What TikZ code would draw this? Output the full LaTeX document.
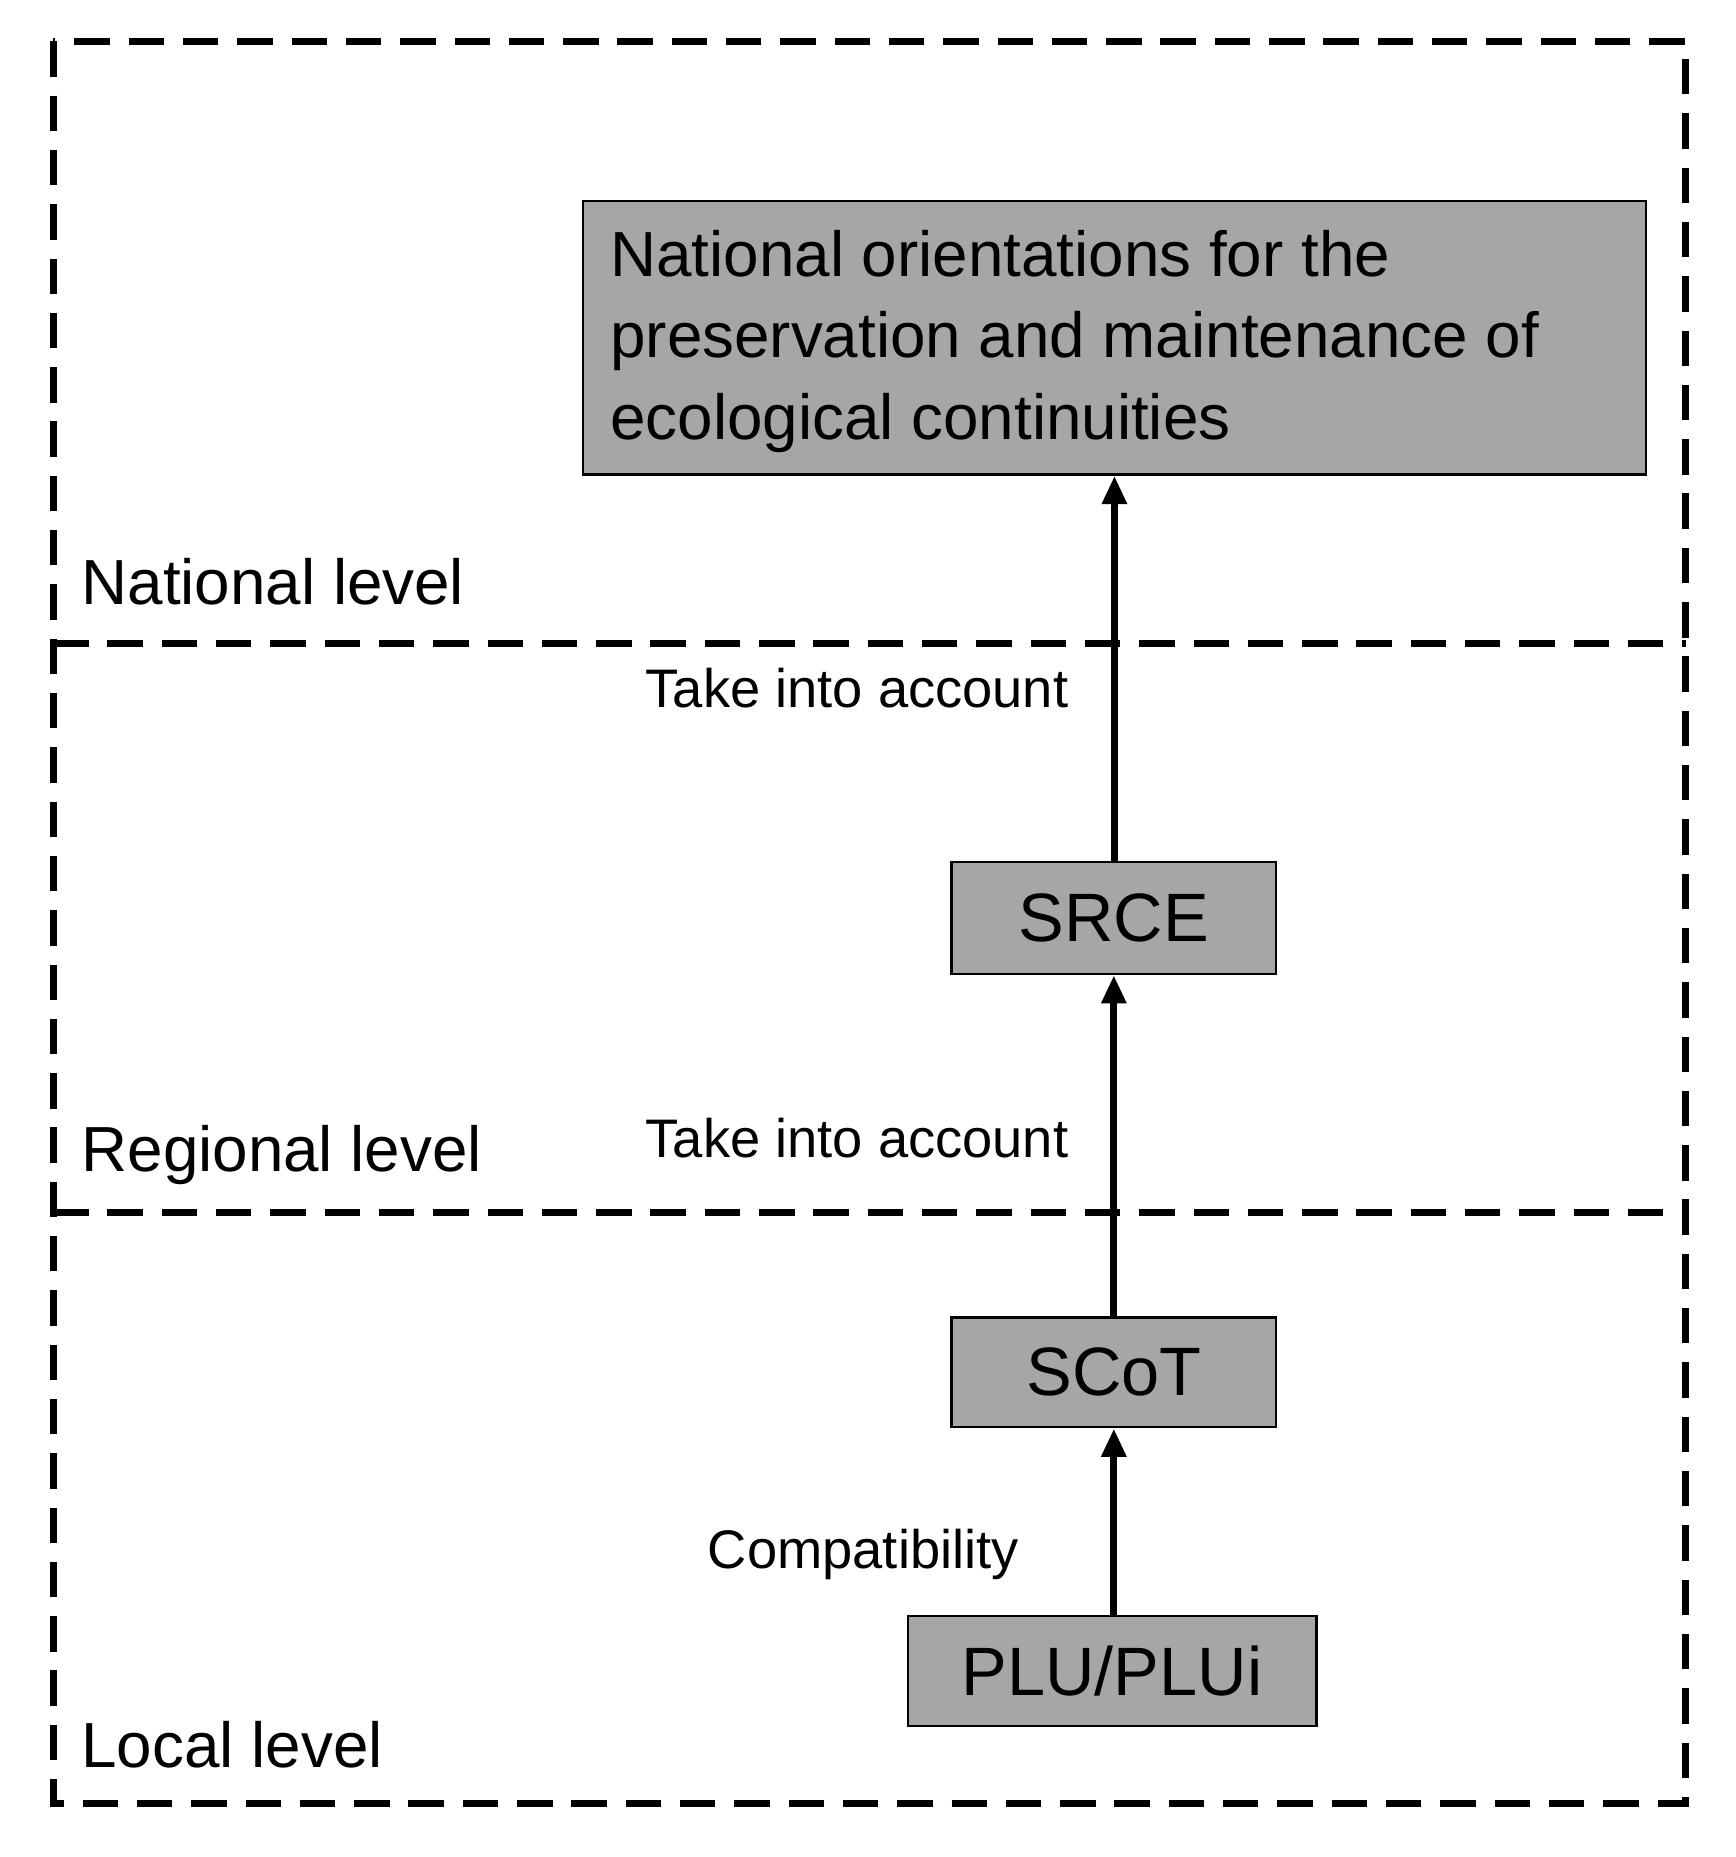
\documentclass[tikz,border=0pt]{standalone}
\usepackage{fontspec}
\setmainfont{Liberation Sans}
\usetikzlibrary{arrows.meta}
\begin{document}
\begin{tikzpicture}[x=0.5pt,y=-0.5pt,
  dashline/.style={line width=3pt,dash pattern=on 15pt off 8pt},
  gbox/.style={draw=black,line width=1pt,fill={rgb,255:red,166;green,166;blue,166},inner sep=0pt},
  arr/.style={line width=3pt,-{Triangle[length=12pt,width=10pt]}},
  lvl/.style={anchor=west,font=\fontsize{27}{32}\selectfont},
  lab/.style={anchor=east,font=\fontsize{23}{28}\selectfont}]
\useasboundingbox (0,0) rectangle (1470,1573);
\fill[white] (0,0) rectangle (1470,1573);
\draw[dashline] (45,35) rectangle (1428,1528);
\draw[dashline] (45,545) -- (1428,545);
\draw[dashline] (45,1027) -- (1428,1027);
\node[gbox,minimum width=450pt,minimum height=116pt] (nat) at (944,286) {};
\node[anchor=north west,align=left,font=\fontsize{27}{34.5}\selectfont] (natt) at (510,188) {National orientations for the\\preservation and maintenance of\\ecological continuities};
\node[gbox,minimum width=137.5pt,minimum height=47.5pt,font=\fontsize{29}{34}\selectfont] (srce) at (943.5,777.5) {SRCE};
\node[gbox,minimum width=137.5pt,minimum height=46.5pt,font=\fontsize{29}{34}\selectfont] (scot) at (943.5,1162.5) {SCoT};
\node[gbox,minimum width=173pt,minimum height=46.5pt,font=\fontsize{29}{34}\selectfont] (plu) at (942,1415.5) {PLU/PLUi};
\draw[arr] (srce.north -| nat.south) -- (nat.south);
\draw[arr] (scot.north) -- (srce.south);
\draw[arr] (plu.north -| scot.north) -- (scot.south);
\node[lvl] (l1) at (62,493) {National level};
\node[lvl] (l2) at (62,978) {Regional level};
\node[lvl] (l3) at (62,1478) {Local level};
\node[lab] (t1) at (912,583) {Take into account};
\node[lab] (t2) at (912,964) {Take into account};
\node[lab] (t3) at (870,1317) {Compatibility};
\end{tikzpicture}
\end{document}
